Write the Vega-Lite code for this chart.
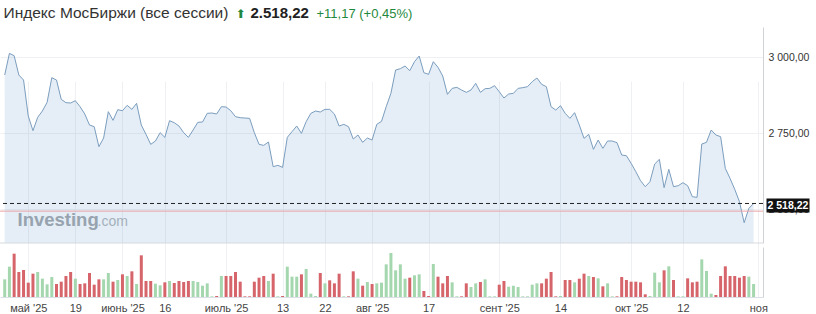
{
"$schema":"https://vega.github.io/schema/vega-lite/v6.json",
"width":763,"height":270,
"autosize":{"type":"none"},
"padding":{"left":0,"top":27,"right":53,"bottom":17},
"background":"white",
"config":{
 "locale":{"number":{"decimal":",","thousands":"\u00a0","grouping":[3],"currency":["",""]}},
 "view":{"stroke":null},
 "font":"Liberation Sans",
 "axis":{"labelFont":"Liberation Sans","titleFont":"Liberation Sans"}
},
"datasets":{"s":[
{"d":"2025-04-24","p":2940.8,"v":53,"c":"g"},
{"d":"2025-04-25","p":3012.0,"v":91,"c":"g"},
{"d":"2025-04-28","p":3004.4,"v":130,"c":"r"},
{"d":"2025-04-29","p":2940.8,"v":75,"c":"r"},
{"d":"2025-04-30","p":2924.3,"v":81,"c":"r"},
{"d":"2025-05-02","p":2805.9,"v":43,"c":"r"},
{"d":"2025-05-05","p":2757.7,"v":70,"c":"r"},
{"d":"2025-05-06","p":2801.5,"v":75,"c":"g"},
{"d":"2025-05-07","p":2822.3,"v":55,"c":"g"},
{"d":"2025-05-08","p":2850.9,"v":38,"c":"g"},
{"d":"2025-05-12","p":2932.0,"v":60,"c":"g"},
{"d":"2025-05-13","p":2924.3,"v":39,"c":"r"},
{"d":"2025-05-14","p":2860.7,"v":46,"c":"r"},
{"d":"2025-05-15","p":2849.8,"v":63,"c":"r"},
{"d":"2025-05-16","p":2848.7,"v":75,"c":"r"},
{"d":"2025-05-19","p":2856.3,"v":55,"c":"g"},
{"d":"2025-05-20","p":2836.6,"v":39,"c":"r"},
{"d":"2025-05-21","p":2812.5,"v":41,"c":"r"},
{"d":"2025-05-22","p":2776.3,"v":72,"c":"r"},
{"d":"2025-05-23","p":2770.8,"v":37,"c":"r"},
{"d":"2025-05-26","p":2705.0,"v":53,"c":"r"},
{"d":"2025-05-27","p":2733.5,"v":53,"c":"g"},
{"d":"2025-05-28","p":2820.1,"v":72,"c":"g"},
{"d":"2025-05-29","p":2791.6,"v":46,"c":"r"},
{"d":"2025-05-30","p":2826.7,"v":51,"c":"g"},
{"d":"2025-06-02","p":2823.4,"v":68,"c":"r"},
{"d":"2025-06-03","p":2841.0,"v":63,"c":"g"},
{"d":"2025-06-04","p":2827.8,"v":77,"c":"r"},
{"d":"2025-06-05","p":2847.6,"v":39,"c":"g"},
{"d":"2025-06-06","p":2776.3,"v":125,"c":"r"},
{"d":"2025-06-09","p":2745.6,"v":48,"c":"r"},
{"d":"2025-06-10","p":2712.7,"v":48,"c":"r"},
{"d":"2025-06-11","p":2723.7,"v":40,"c":"g"},
{"d":"2025-06-13","p":2751.1,"v":35,"c":"g"},
{"d":"2025-06-16","p":2735.7,"v":44,"c":"r"},
{"d":"2025-06-17","p":2790.5,"v":48,"c":"g"},
{"d":"2025-06-18","p":2784.0,"v":42,"c":"r"},
{"d":"2025-06-19","p":2773.0,"v":48,"c":"r"},
{"d":"2025-06-20","p":2751.1,"v":45,"c":"r"},
{"d":"2025-06-23","p":2735.7,"v":48,"c":"r"},
{"d":"2025-06-24","p":2759.8,"v":48,"c":"g"},
{"d":"2025-06-25","p":2785.1,"v":45,"c":"g"},
{"d":"2025-06-26","p":2786.2,"v":34,"c":"g"},
{"d":"2025-06-27","p":2814.7,"v":41,"c":"g"},
{"d":"2025-06-28","p":2815.8,"v":2,"c":"g"},
{"d":"2025-06-29","p":2812.5,"v":3,"c":"r"},
{"d":"2025-06-30","p":2836.6,"v":63,"c":"g"},
{"d":"2025-07-01","p":2835.5,"v":63,"c":"r"},
{"d":"2025-07-02","p":2823.4,"v":63,"c":"r"},
{"d":"2025-07-03","p":2803.7,"v":75,"c":"r"},
{"d":"2025-07-04","p":2800.4,"v":46,"c":"r"},
{"d":"2025-07-05","p":2799.3,"v":2,"c":"r"},
{"d":"2025-07-06","p":2798.2,"v":2,"c":"r"},
{"d":"2025-07-07","p":2751.1,"v":46,"c":"r"},
{"d":"2025-07-08","p":2712.7,"v":58,"c":"r"},
{"d":"2025-07-09","p":2709.4,"v":63,"c":"r"},
{"d":"2025-07-10","p":2720.4,"v":48,"c":"g"},
{"d":"2025-07-11","p":2639.2,"v":70,"c":"r"},
{"d":"2025-07-12","p":2643.6,"v":2,"c":"g"},
{"d":"2025-07-13","p":2637.0,"v":3,"c":"r"},
{"d":"2025-07-14","p":2735.7,"v":91,"c":"g"},
{"d":"2025-07-15","p":2754.4,"v":61,"c":"g"},
{"d":"2025-07-16","p":2773.0,"v":61,"c":"g"},
{"d":"2025-07-17","p":2748.9,"v":68,"c":"r"},
{"d":"2025-07-18","p":2787.3,"v":84,"c":"g"},
{"d":"2025-07-19","p":2814.7,"v":10,"c":"g"},
{"d":"2025-07-20","p":2822.3,"v":3,"c":"g"},
{"d":"2025-07-21","p":2819.1,"v":72,"c":"r"},
{"d":"2025-07-22","p":2827.8,"v":41,"c":"g"},
{"d":"2025-07-23","p":2827.8,"v":50,"c":"r"},
{"d":"2025-07-24","p":2812.5,"v":41,"c":"r"},
{"d":"2025-07-25","p":2773.0,"v":70,"c":"r"},
{"d":"2025-07-26","p":2778.5,"v":2,"c":"g"},
{"d":"2025-07-27","p":2770.8,"v":2,"c":"r"},
{"d":"2025-07-28","p":2730.2,"v":77,"c":"r"},
{"d":"2025-07-29","p":2743.4,"v":55,"c":"g"},
{"d":"2025-07-30","p":2719.3,"v":34,"c":"r"},
{"d":"2025-07-31","p":2733.5,"v":45,"c":"g"},
{"d":"2025-08-01","p":2726.9,"v":39,"c":"r"},
{"d":"2025-08-04","p":2778.5,"v":41,"c":"g"},
{"d":"2025-08-05","p":2788.3,"v":43,"c":"g"},
{"d":"2025-08-06","p":2836.6,"v":98,"c":"g"},
{"d":"2025-08-07","p":2880.5,"v":132,"c":"g"},
{"d":"2025-08-08","p":2957.2,"v":80,"c":"g"},
{"d":"2025-08-11","p":2961.6,"v":98,"c":"g"},
{"d":"2025-08-12","p":2970.4,"v":55,"c":"g"},
{"d":"2025-08-13","p":2955.0,"v":58,"c":"r"},
{"d":"2025-08-14","p":2984.6,"v":65,"c":"g"},
{"d":"2025-08-15","p":3003.3,"v":68,"c":"g"},
{"d":"2025-08-16","p":2948.4,"v":18,"c":"r"},
{"d":"2025-08-17","p":2943.0,"v":3,"c":"r"},
{"d":"2025-08-18","p":2984.6,"v":99,"c":"g"},
{"d":"2025-08-19","p":2966.0,"v":61,"c":"r"},
{"d":"2025-08-20","p":2937.5,"v":41,"c":"r"},
{"d":"2025-08-21","p":2877.2,"v":63,"c":"r"},
{"d":"2025-08-22","p":2896.9,"v":44,"c":"g"},
{"d":"2025-08-23","p":2900.2,"v":2,"c":"g"},
{"d":"2025-08-24","p":2891.4,"v":2,"c":"r"},
{"d":"2025-08-25","p":2883.7,"v":41,"c":"r"},
{"d":"2025-08-26","p":2891.4,"v":30,"c":"g"},
{"d":"2025-08-27","p":2913.4,"v":41,"c":"g"},
{"d":"2025-08-28","p":2883.7,"v":45,"c":"r"},
{"d":"2025-08-29","p":2895.8,"v":53,"c":"g"},
{"d":"2025-08-30","p":2896.9,"v":2,"c":"g"},
{"d":"2025-08-31","p":2905.7,"v":2,"c":"g"},
{"d":"2025-09-01","p":2885.9,"v":37,"c":"r"},
{"d":"2025-09-02","p":2865.1,"v":48,"c":"r"},
{"d":"2025-09-03","p":2878.3,"v":31,"c":"g"},
{"d":"2025-09-04","p":2880.5,"v":34,"c":"g"},
{"d":"2025-09-05","p":2896.9,"v":30,"c":"g"},
{"d":"2025-09-06","p":2899.1,"v":2,"c":"g"},
{"d":"2025-09-07","p":2902.4,"v":2,"c":"g"},
{"d":"2025-09-08","p":2918.8,"v":37,"c":"g"},
{"d":"2025-09-09","p":2930.9,"v":41,"c":"g"},
{"d":"2025-09-10","p":2910.1,"v":41,"c":"r"},
{"d":"2025-09-11","p":2902.4,"v":55,"c":"r"},
{"d":"2025-09-12","p":2836.6,"v":75,"c":"r"},
{"d":"2025-09-13","p":2825.6,"v":2,"c":"r"},
{"d":"2025-09-14","p":2839.9,"v":3,"c":"g"},
{"d":"2025-09-15","p":2814.7,"v":51,"c":"r"},
{"d":"2025-09-16","p":2798.2,"v":51,"c":"r"},
{"d":"2025-09-17","p":2816.9,"v":44,"c":"g"},
{"d":"2025-09-18","p":2776.3,"v":55,"c":"r"},
{"d":"2025-09-19","p":2732.4,"v":70,"c":"r"},
{"d":"2025-09-22","p":2745.6,"v":63,"c":"g"},
{"d":"2025-09-23","p":2696.2,"v":60,"c":"r"},
{"d":"2025-09-24","p":2726.9,"v":56,"c":"g"},
{"d":"2025-09-25","p":2699.5,"v":32,"c":"r"},
{"d":"2025-09-26","p":2723.7,"v":41,"c":"g"},
{"d":"2025-09-27","p":2723.7,"v":2,"c":"g"},
{"d":"2025-09-28","p":2718.2,"v":2,"c":"r"},
{"d":"2025-09-29","p":2677.6,"v":60,"c":"r"},
{"d":"2025-09-30","p":2675.4,"v":51,"c":"r"},
{"d":"2025-10-01","p":2650.2,"v":46,"c":"r"},
{"d":"2025-10-02","p":2622.8,"v":46,"c":"r"},
{"d":"2025-10-03","p":2593.2,"v":44,"c":"r"},
{"d":"2025-10-04","p":2573.4,"v":8,"c":"r"},
{"d":"2025-10-05","p":2589.9,"v":3,"c":"g"},
{"d":"2025-10-06","p":2648.0,"v":73,"c":"g"},
{"d":"2025-10-07","p":2663.4,"v":44,"c":"g"},
{"d":"2025-10-08","p":2570.2,"v":80,"c":"r"},
{"d":"2025-10-09","p":2630.5,"v":92,"c":"g"},
{"d":"2025-10-10","p":2573.4,"v":51,"c":"r"},
{"d":"2025-10-11","p":2576.7,"v":2,"c":"g"},
{"d":"2025-10-12","p":2586.6,"v":2,"c":"g"},
{"d":"2025-10-13","p":2576.7,"v":56,"c":"r"},
{"d":"2025-10-14","p":2540.5,"v":44,"c":"r"},
{"d":"2025-10-15","p":2538.4,"v":46,"c":"r"},
{"d":"2025-10-16","p":2713.8,"v":113,"c":"g"},
{"d":"2025-10-17","p":2719.3,"v":78,"c":"g"},
{"d":"2025-10-18","p":2759.8,"v":10,"c":"g"},
{"d":"2025-10-19","p":2743.4,"v":6,"c":"r"},
{"d":"2025-10-20","p":2737.9,"v":63,"c":"r"},
{"d":"2025-10-21","p":2633.7,"v":92,"c":"r"},
{"d":"2025-10-22","p":2600.9,"v":63,"c":"r"},
{"d":"2025-10-23","p":2564.7,"v":63,"c":"r"},
{"d":"2025-10-24","p":2524.1,"v":58,"c":"r"},
{"d":"2025-10-27","p":2455.0,"v":63,"c":"r"},
{"d":"2025-10-28","p":2502.2,"v":61,"c":"g"},
{"d":"2025-10-29","p":2518.22,"v":39,"c":"g"}
]},
"data":{"name":"s"},
"resolve":{"scale":{"y":"independent"},"axis":{"x":"independent","y":"independent"}},
"layer":[
{
 "mark":{"type":"area","color":"#5b93c7","opacity":0.16},
 "encoding":{
  "x":{"field":"d","type":"ordinal","scale":{"type":"point","padding":1.28,"domain":{"unionWith":["2025-11-01"]}},
   "axis":{"orient":"bottom","values":["2025-05-02","2025-05-19","2025-06-02","2025-06-16","2025-07-01","2025-07-13","2025-07-22","2025-08-01","2025-08-17","2025-09-01","2025-09-14","2025-10-01","2025-10-12","2025-11-01"],
    "labelExpr":"datum.value=='2025-05-02'?\"май '25\":datum.value=='2025-05-19'?'19':datum.value=='2025-06-02'?\"июнь '25\":datum.value=='2025-06-16'?'16':datum.value=='2025-07-01'?\"июль '25\":datum.value=='2025-07-13'?'13':datum.value=='2025-07-22'?'22':datum.value=='2025-08-01'?\"авг '25\":datum.value=='2025-08-17'?'17':datum.value=='2025-09-01'?\"сент '25\":datum.value=='2025-09-14'?'14':datum.value=='2025-10-01'?\"окт '25\":datum.value=='2025-10-12'?'12':datum.value=='2025-11-01'?'ноя':''",
    "title":null,"ticks":false,"labelPadding":5,"labelFontSize":11,"labelColor":"#444","labelAngle":0,"labelOverlap":false,
    "domain":true,"domainColor":"#dcdfe3","grid":true,"gridColor":"#eef0f3"}},
  "y":{"field":"p","type":"quantitative","scale":{"domain":[2388.2,3098.7],"range":[216,0],"nice":false,"zero":false},
   "axis":{"orient":"right","values":[2500,2750,3000],"format":",.2f","title":null,"ticks":false,"labelPadding":5,"labelFontSize":10.5,"labelColor":"#333","domain":true,"domainColor":"#cfd3d8","grid":true,"gridColor":"#eef0f3"}},
  "y2":{"datum":2388.2}
 }
},
{
 "mark":{"type":"line","color":"#7b9dbe","strokeWidth":1},
 "encoding":{
  "x":{"field":"d","type":"ordinal","axis":{"orient":"top","labels":false,"ticks":false,"domain":false,"grid":false,
   "title":"Индекс МосБиржи (все сессии)","titleX":3,"titleY":-10,"titleAlign":"left","titleBaseline":"alphabetic","titleFontSize":15.5,"titleFontWeight":"normal","titleColor":"#333"}},
  "y":{"field":"p","type":"quantitative","scale":{"domain":[2388.2,3098.7],"range":[216,0],"nice":false,"zero":false},
   "axis":{"orient":"left","labels":false,"ticks":false,"domain":false,"grid":false,
   "title":"Investing","titleX":17,"titleY":198,"titleAngle":0,"titleAlign":"left","titleBaseline":"alphabetic","titleFontSize":18.5,"titleFontWeight":"bold","titleColor":"#a3a6aa"}}
 }
},
{
 "data":{"values":[{}]},
 "mark":{"type":"rule","color":"#222","strokeDash":[4,3],"strokeWidth":1},
 "encoding":{
  "y":{"datum":2518.22,"type":"quantitative","scale":{"domain":[2388.2,3098.7],"range":[216,0],"nice":false,"zero":false},
   "axis":{"orient":"right","values":[2518.22],"format":",.2f","title":null,"grid":false,"domain":false,"offset":3,
    "ticks":true,"tickSize":43,"tickWidth":14,"tickOffset":2,"tickColor":"#111","tickCap":"butt","labelPadding":-42,"labelAlign":"left","labelBaseline":"middle","labelColor":"#ffffff","labelFontSize":10.5,"labelFontWeight":"bold"}}
 }
},
{
 "data":{"values":[{}]},
 "mark":{"type":"rule","color":"#e9a3a6","strokeWidth":1},
 "encoding":{
  "y":{"datum":2493,"type":"quantitative","scale":{"domain":[2388.2,3098.7],"range":[216,0],"nice":false,"zero":false},
   "axis":{"orient":"left","labels":false,"ticks":false,"domain":false,"grid":false,
    "title":"⬆","titleX":235,"titleY":-10,"titleAngle":0,"titleAlign":"left","titleBaseline":"alphabetic","titleFont":"DejaVu Sans","titleFontSize":12,"titleFontWeight":"normal","titleColor":"#1f8a3d"}}
 }
},
{
 "data":{"values":[{}]},
 "mark":{"type":"rule","color":"#d5d9de","strokeWidth":1},
 "encoding":{
  "y":{"datum":2388.2,"type":"quantitative","scale":{"domain":[2388.2,3098.7],"range":[216,0],"nice":false,"zero":false},
   "axis":{"orient":"left","labels":false,"ticks":false,"domain":false,"grid":false,
    "title":"2.518,22","titleX":250,"titleY":-10,"titleAngle":0,"titleAlign":"left","titleBaseline":"alphabetic","titleFontSize":15,"titleFontWeight":"bold","titleColor":"#222"}}
 }
},
{
 "mark":{"type":"bar","size":3},
 "encoding":{
  "x":{"field":"d","type":"ordinal","axis":{"orient":"top","labels":false,"ticks":false,"domain":false,"grid":false,
   "title":"+11,17 (+0,45%)","titleX":316,"titleY":-10,"titleAlign":"left","titleBaseline":"alphabetic","titleFontSize":13,"titleFontWeight":"normal","titleColor":"#1f8a3d"}},
  "y":{"field":"v","type":"quantitative","stack":null,"scale":{"domain":[0,150],"range":[270,220],"nice":false,"zero":true},
   "axis":{"orient":"right","labels":false,"ticks":false,"grid":false,"domain":true,"domainColor":"#cfd3d8",
    "title":".com","titleX":-666,"titleY":198,"titleAngle":0,"titleAlign":"left","titleBaseline":"alphabetic","titleFontSize":14,"titleFontWeight":"normal","titleColor":"#b3b6ba"}},
  "color":{"field":"c","type":"nominal","scale":{"domain":["g","r"],"range":["#a5d7af","#d6646b"]},"legend":null}
 }
}
]
}
